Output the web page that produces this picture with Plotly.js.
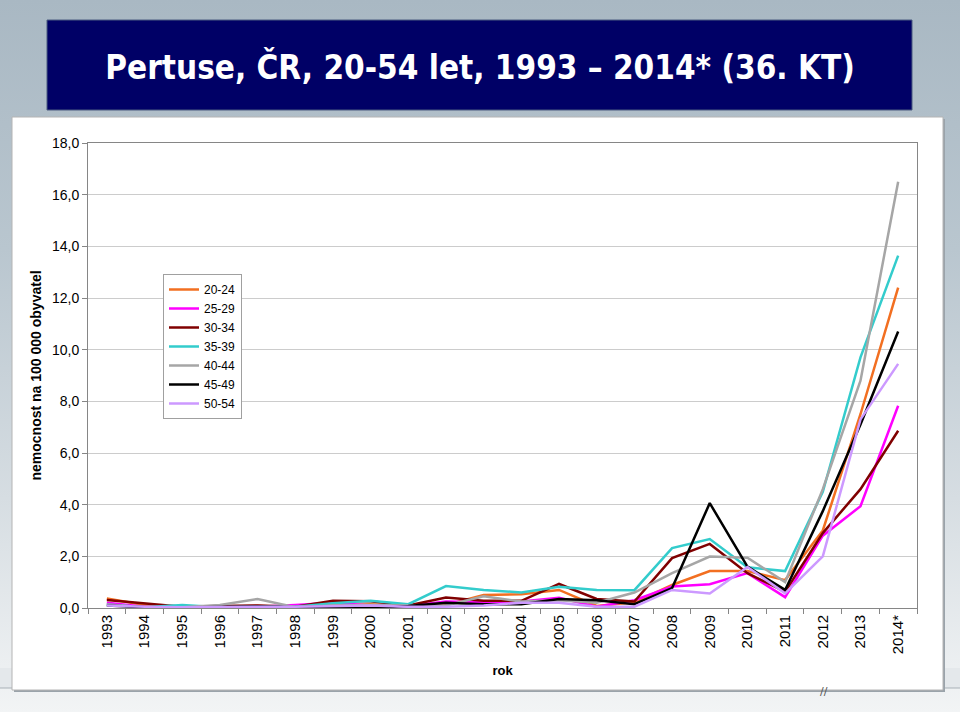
<!DOCTYPE html>
<html>
<head>
<meta charset="utf-8">
<script src="https://cdn.plot.ly/plotly-3.0.1.min.js"></script>
<style>
html, body { margin:0; padding:0; }
body { width:960px; height:712px; overflow:hidden;
  background: linear-gradient(to bottom, #a9b8c3 0%, #b9c6cf 35%, #d6dde2 70%, #f2f4f5 100%); }
#chart { width:960px; height:712px; }
</style>
</head>
<body>
<div id="chart"></div>
<script>
// ---- data ----
const years = ["1993","1994","1995","1996","1997","1998","1999","2000","2001","2002","2003",
  "2004","2005","2006","2007","2008","2009","2010","2011","2012","2013","2014*"];
const seriesNames = ["20-24","25-29","30-34","35-39","40-44","45-49","50-54"];
const v20_24 = [0.37,0.12,0.03,0.05,0.08,0.05,0.10,0.15,0.08,0.12,0.50,0.53,0.70,0.08,0.22,0.89,1.43,1.43,1.08,3.00,7.50,12.40];
const v25_29 = [0.20,0.05,0.03,0.03,0.05,0.12,0.20,0.10,0.08,0.25,0.22,0.25,0.40,0.05,0.30,0.83,0.92,1.35,0.42,2.80,3.94,7.83];
const v30_34 = [0.31,0.18,0.05,0.08,0.10,0.05,0.28,0.26,0.10,0.41,0.28,0.28,0.93,0.35,0.25,1.93,2.48,1.35,0.63,2.90,4.60,6.86];
const v35_39 = [0.14,0.03,0.12,0.03,0.05,0.05,0.18,0.28,0.15,0.85,0.70,0.60,0.82,0.70,0.69,2.32,2.67,1.58,1.43,4.50,9.70,13.64];
const v40_44 = [0.14,0.03,0.03,0.12,0.35,0.03,0.10,0.12,0.10,0.10,0.45,0.25,0.30,0.20,0.60,1.35,1.99,1.95,1.00,4.60,8.80,16.50];
const v45_49 = [0.10,0.03,0.02,0.05,0.06,0.03,0.05,0.00,0.08,0.20,0.15,0.15,0.35,0.30,0.15,0.77,4.06,1.60,0.70,3.75,7.10,10.70];
const v50_54 = [0.10,0.05,0.03,0.05,0.05,0.05,0.08,0.10,0.05,0.05,0.10,0.20,0.20,0.05,0.05,0.70,0.56,1.59,0.57,2.00,7.30,9.45];
const seriesValues = [v20_24, v25_29, v30_34, v35_39, v40_44, v45_49, v50_54];
const colors = ["#f26f21","#ff00ff","#800000","#33cccc","#a6a6a6","#000000","#cc99ff"];

const traces = seriesNames.map((n, i) => ({
  type: "scatter", mode: "lines", name: n, x: years, y: seriesValues[i],
  line: { color: colors[i], width: 2.5 }
}));

// plot area px: x 88..917, y 143..608
const L = 88, R = 917, T = 143, B = 608;
const W = R - L, H = B - T;
const px = x => (x - L) / W;
const py = y => (B - y) / H;

const layout = {
  width: 960, height: 712,
  paper_bgcolor: "rgba(0,0,0,0)",
  plot_bgcolor: "#ffffff",
  margin: { l: L, r: 960 - R, t: T, b: 712 - B, pad: 0 },
  separators: ", ",
  showlegend: true,
  title: {
    text: "<b>Pertuse, ČR, 20-54 let, 1993 – 2014* (36. KT)</b>",
    font: { family: "DejaVu Sans Condensed, DejaVu Sans, sans-serif", size: 33, color: "#ffffff" },
    xref: "container", x: 0.5, xanchor: "center",
    yref: "container", y: 1 - 67 / 712, yanchor: "middle"
  },
  font: { family: "Liberation Sans, Arial, sans-serif", size: 14, color: "#222222" },
  xaxis: {
    type: "category", range: [-0.5, 21.5], tickangle: -90,
    tickson: "boundaries", ticks: "outside", ticklen: 5, tickcolor: "#868686",
    showline: true, linecolor: "#868686", linewidth: 1, mirror: true,
    showgrid: false, zeroline: false,
    tickfont: { size: 15, color: "#000000" },
    title: { text: "<b>rok</b>", font: { size: 13, color: "#000000" }, standoff: 12 }
  },
  yaxis: {
    range: [0, 18], dtick: 2, tickformat: ".1f",
    ticks: "outside", ticklen: 5, tickcolor: "#868686",
    showline: true, linecolor: "#868686", linewidth: 1, mirror: true,
    showgrid: true, gridcolor: "#cccccc", gridwidth: 1, zeroline: false,
    tickfont: { size: 14, color: "#000000" },
    title: { text: "<b>nemocnost na 100 000 obyvatel</b>", font: { size: 14, color: "#000000" }, standoff: 7 }
  },
  legend: {
    x: px(163), y: py(274), xanchor: "left", yanchor: "top",
    bgcolor: "#ffffff", bordercolor: "#a0a0a0", borderwidth: 1,
    font: { size: 12, color: "#000000" }, itemwidth: 30, tracegroupgap: 0
  },
  shapes: [
    { type: "rect", xref: "paper", yref: "paper", layer: "below",
      x0: px(0), x1: px(960), y0: py(688), y1: py(668),
      fillcolor: "#e4e8eb", line: { width: 0 } },
    { type: "line", xref: "paper", yref: "paper", layer: "below",
      x0: px(0), x1: px(960), y0: py(688), y1: py(688),
      line: { color: "#a9b1b7", width: 1 } },
    { type: "rect", xref: "paper", yref: "paper", layer: "below",
      x0: px(47), x1: px(912), y0: py(110), y1: py(20),
      fillcolor: "#000066", line: { color: "#4a5a80", width: 1 } },
    { type: "rect", xref: "paper", yref: "paper", layer: "below",
      x0: px(14), x1: px(945), y0: py(692), y1: py(119),
      fillcolor: "#9aa3aa", line: { width: 0 } },
    { type: "rect", xref: "paper", yref: "paper", layer: "below",
      x0: px(12), x1: px(943), y0: py(690), y1: py(117),
      fillcolor: "#ffffff", line: { color: "#b4b4b4", width: 1 } }
  ],
  annotations: [
    { text: "//", xref: "paper", yref: "paper", x: px(830), y: py(700),
      showarrow: false, font: { size: 11, color: "#555555", family: "DejaVu Sans" } }
  ]
};

Plotly.newPlot("chart", traces, layout, { displayModeBar: false, staticPlot: true });
</script>
</body>
</html>
